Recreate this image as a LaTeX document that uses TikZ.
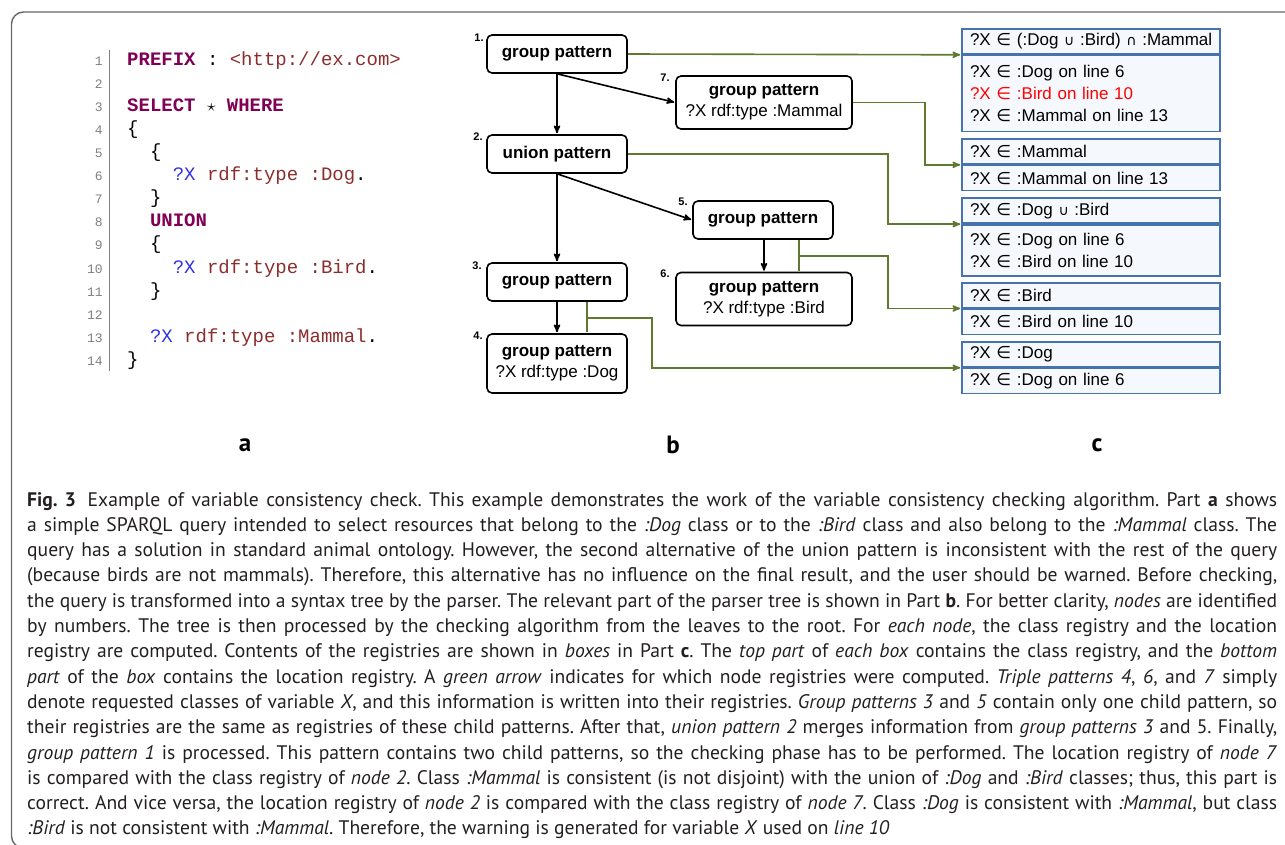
\documentclass[tikz,border=0pt]{standalone}
\usepackage{fontspec}
\setmainfont{PT Sans}
\newfontfamily\arialfont{Liberation Sans}
\newfontfamily\monofont{Liberation Mono}
\newfontfamily\symfont{DejaVu Sans}
\usetikzlibrary{arrows,positioning}

\definecolor{kwpurple}{RGB}{127,0,85}
\definecolor{litbrown}{RGB}{140,45,45}
\definecolor{varblue}{RGB}{50,50,230}
\definecolor{regolive}{RGB}{95,122,47}
\definecolor{boxblue}{RGB}{70,115,175}
\definecolor{boxfill}{RGB}{245,249,253}
\definecolor{framegray}{RGB}{105,105,105}
\definecolor{captext}{RGB}{35,31,32}

\newcommand{\kw}[1]{\textcolor{kwpurple}{\bfseries #1}}
\newcommand{\lit}[1]{\textcolor{litbrown}{#1}}
\newcommand{\qvar}[1]{\textcolor{varblue}{#1}}
\newcommand{\isin}{{\symfont ∈}}
\newcommand{\cupsym}{{\symfont\fontsize{14}{14}\selectfont ∪}}
\newcommand{\capsym}{{\symfont\fontsize{14}{14}\selectfont ∩}}

\begin{document}
\begin{tikzpicture}[x=1pt,y=-1pt,>=stealth',shorten >=1pt,
  pattern node/.style={draw,rounded corners=5pt,line width=1.6pt,fill=white,minimum width=140pt,
    minimum height=38pt,align=center,font=\arialfont\fontsize{17}{21}\selectfont},
  triple node/.style={pattern node,minimum width=176pt,minimum height=53pt},
  num label/.style={inner sep=0pt,font=\arialfont\bfseries\fontsize{11}{11}\selectfont},
  tree edge/.style={->,line width=1.6pt},
  reg arrow/.style={->,draw=regolive,line width=1.6pt},
  reg line/.style={draw=regolive,line width=1.6pt},
  reg top/.style={draw=boxblue,fill=boxfill,line width=1.6pt,minimum height=25pt,inner xsep=8pt,
    inner ysep=0pt,text width=242pt,align=left,font=\arialfont\fontsize{17}{22}\selectfont},
  reg bottom/.style={reg top,below=0pt of #1},
  code line/.style={anchor=base west,inner sep=0pt,font=\monofont\fontsize{19}{23}\selectfont},
  line number/.style={anchor=base east,inner sep=0pt,text=gray,font=\monofont\fontsize{13}{13}\selectfont},
  part label/.style={font=\bfseries\fontsize{25}{25}\selectfont}]

  \useasboundingbox (0,0) rectangle (1285,845);
  \draw[-,framegray,line width=1.4pt,rounded corners=12pt] (1300,12) -- (11.5,12) -- (11.5,848) -- (40,848);

  % part a: the query
  \foreach \n in {1,...,14}
    \node[line number] (ln\n) at (103,{66+23*(\n-1)}) {\n};
  \draw[-,gray,line width=0.8pt] (109,50) -- (109,372);

  \node[code line] (c1) at (127,66) {\kw{PREFIX} : \lit{<http://ex.com>}};
  \node[code line] (c3) at (127,112) {\kw{SELECT} $\star$ \kw{WHERE}};
  \node[code line] (c4) at (127,135) {\{};
  \node[code line] (c5) at (149.8,158) {\{};
  \node[code line] (c6) at (172.6,181) {\qvar{?X} \lit{rdf:type :Dog}.};
  \node[code line] (c7) at (149.8,204) {\}};
  \node[code line] (c8) at (149.8,227) {\kw{UNION}};
  \node[code line] (c9) at (149.8,250) {\{};
  \node[code line] (c10) at (172.6,273) {\qvar{?X} \lit{rdf:type :Bird}.};
  \node[code line] (c11) at (149.8,296) {\}};
  \node[code line] (c13) at (149.8,342) {\qvar{?X} \lit{rdf:type :Mammal}.};
  \node[code line] (c14) at (127,365) {\}};

  % part b: the parser tree
  \node[pattern node] (n1) at (557,54) {\textbf{group pattern}};
  \node[pattern node] (n2) at (557,154) {\textbf{union pattern}};
  \node[pattern node] (n3) at (557,282) {\textbf{group pattern}};
  \node[pattern node,minimum height=59pt] (n4) at (557,363.5) {\textbf{group pattern}\\?X rdf:type :Dog};
  \node[pattern node] (n5) at (763,220) {\textbf{group pattern}};
  \node[triple node] (n6) at (764,299) {\textbf{group pattern}\\?X rdf:type :Bird};
  \node[triple node] (n7) at (764,102.5) {\textbf{group pattern}\\?X rdf:type :Mammal};

  \node[num label] (l1) at (479,38) {1.};
  \node[num label] (l2) at (478,137) {2.};
  \node[num label] (l3) at (477,266) {3.};
  \node[num label] (l4) at (478,336) {4.};
  \node[num label] (l5) at (683,202) {5.};
  \node[num label] (l6) at (665,274) {6.};
  \node[num label] (l7) at (665,78) {7.};

  \path[tree edge]
    (n1.south) edge (n2.north)
    (n1.south) edge (n7.west)
    (n2.south) edge (n3.north)
    (n2.south) edge (n5.west)
    (n3.south) edge (n4.north)
    (n5.south -| n6) edge (n6.north)
    ;

  % part c: the registries
  \node[reg top] (b1t) at (1091,41.5) {\mbox{?X \isin\ (:Dog \cupsym\ :Bird) \capsym\ :Mammal}};
  \node[reg bottom=b1t,minimum height=76pt] (b1b) {?X \isin\ :Dog on line 6\\
    \textcolor{red}{?X \isin\ :Bird on line 10}\\?X \isin\ :Mammal on line 13};
  \node[reg top] (b2t) at (1091,151.5) {?X \isin\ :Mammal};
  \node[reg bottom=b2t] (b2b) {?X \isin\ :Mammal on line 13};
  \node[reg top] (b3t) at (1091,210.8) {?X \isin\ :Dog \cupsym\ :Bird};
  \node[reg bottom=b3t,minimum height=51pt] (b3b) {?X \isin\ :Dog on line 6\\?X \isin\ :Bird on line 10};
  \node[reg top] (b4t) at (1091,295.2) {?X \isin\ :Bird};
  \node[reg bottom=b4t] (b4b) {?X \isin\ :Bird on line 10};
  \node[reg top] (b5t) at (1091,354.5) {?X \isin\ :Dog};
  \node[reg bottom=b5t] (b5b) {?X \isin\ :Dog on line 6};

  \coordinate (k7) at (925,130);
  \coordinate (k2) at (888,190);
  \coordinate (k2b) at (888,280);
  \coordinate (k34) at (652,340);
  \coordinate (j56) at (799,256);
  \coordinate (j34) at (587,318);

  \draw[reg line] (n5.south -| j56) -- (n6.north -| j56);
  \draw[reg line] (n3.south -| j34) -- (n4.north -| j34);
  \draw[reg arrow] (n1.east) -- (b1t.south west);
  \draw[reg arrow] (n7.east) -| (k7) |- (b2t.south west);
  \draw[reg arrow] (n2.east) -| (k2) |- (b3t.south west);
  \draw[reg arrow] (j56) -| (k2b) |- (b4t.south west);
  \draw[reg arrow] (j34) -| (k34) |- (b5t.south west);

  \node[part label] (pa) at (245,445) {a};
  \node[part label] (pb) at (673,445) {b};
  \node[part label] (pc) at (1097,445) {c};

  % caption
  \node[anchor=base west,inner sep=0pt,text=captext] (cap) at (27,506) {\parbox[t]{1250pt}{%
    \fontsize{19.6}{25.3}\selectfont\frenchspacing\hyphenpenalty=10000\tolerance=10000
    \textbf{Fig. 3}\hspace{0.6em}Example of variable consistency check. This example demonstrates the work of the variable consistency checking algorithm. Part \textbf{a} shows\linebreak
    a simple SPARQL query intended to select resources that belong to the \textit{:Dog} class or to the \textit{:Bird} class and also belong to the \textit{:Mammal} class. The\linebreak
    query has a solution in standard animal ontology. However, the second alternative of the union pattern is inconsistent with the rest of the query\linebreak
    (because birds are not mammals). Therefore, this alternative has no influence on the final result, and the user should be warned. Before checking,\linebreak
    the query is transformed into a syntax tree by the parser. The relevant part of the parser tree is shown in Part \textbf{b}. For better clarity, \textit{nodes} are identified\linebreak
    by numbers. The tree is then processed by the checking algorithm from the leaves to the root. For \textit{each node}, the class registry and the location\linebreak
    registry are computed. Contents of the registries are shown in \textit{boxes} in Part \textbf{c}. The \textit{top part} of \textit{each box} contains the class registry, and the \textit{bottom}\linebreak
    \textit{part} of the \textit{box} contains the location registry. A \textit{green arrow} indicates for which node registries were computed. \textit{Triple patterns 4}, \textit{6}, and \textit{7} simply\linebreak
    denote requested classes of variable \textit{X}, and this information is written into their registries. \textit{Group patterns 3} and \textit{5} contain only one child pattern, so\linebreak
    their registries are the same as registries of these child patterns. After that, \textit{union pattern 2} merges information from \textit{group patterns 3} and 5. Finally,\linebreak
    \textit{group pattern 1} is processed. This pattern contains two child patterns, so the checking phase has to be performed. The location registry of \textit{node 7}\linebreak
    is compared with the class registry of \textit{node 2}. Class \textit{:Mammal} is consistent (is not disjoint) with the union of \textit{:Dog} and \textit{:Bird} classes; thus, this part is\linebreak
    correct. And vice versa, the location registry of \textit{node 2} is compared with the class registry of \textit{node 7}. Class \textit{:Dog} is consistent with \textit{:Mammal}, but class\linebreak
    \textit{:Bird} is not consistent with \textit{:Mammal}. Therefore, the warning is generated for variable \textit{X} used on \textit{line 10}}};
\end{tikzpicture}
\end{document}
